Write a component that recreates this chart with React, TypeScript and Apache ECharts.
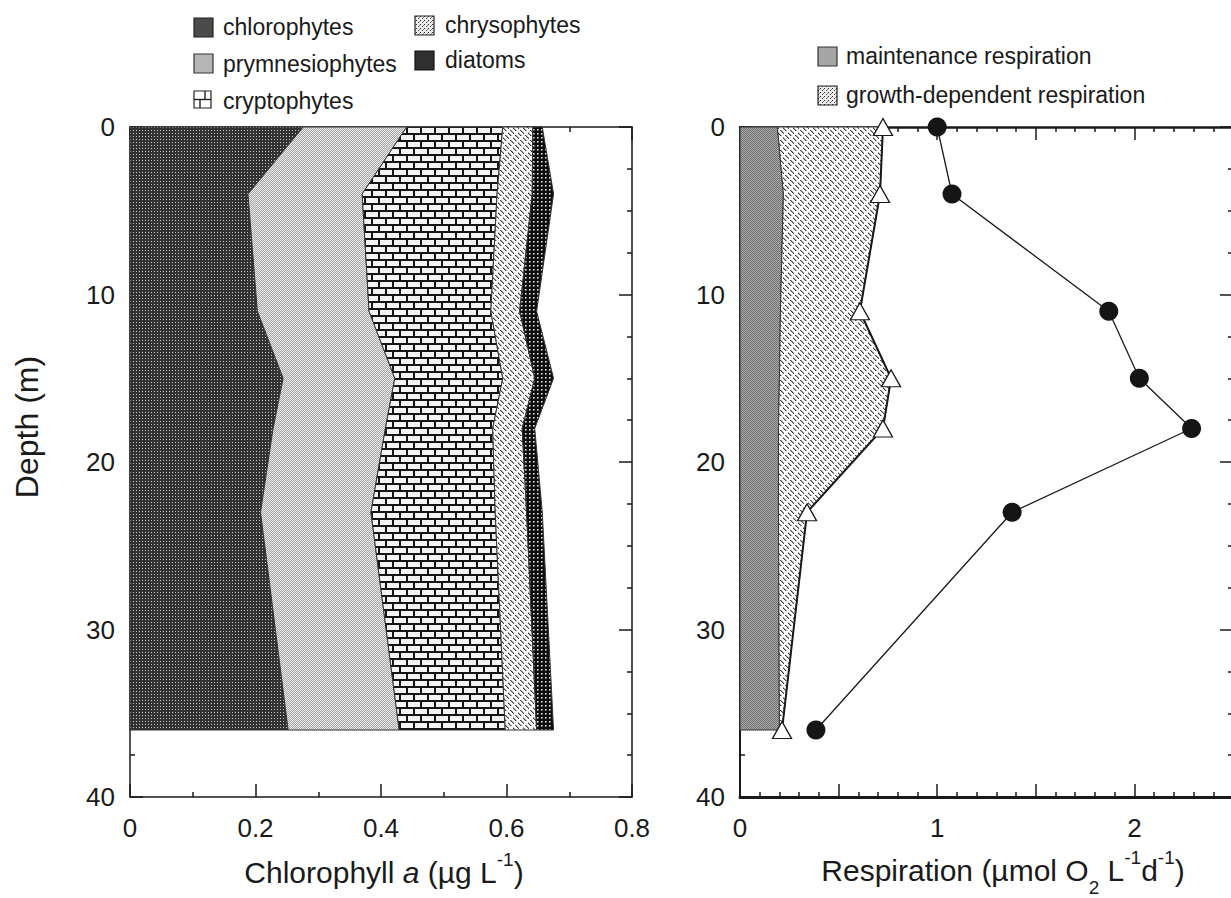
import React, { useEffect, useRef } from "react";
import * as echarts from "echarts";

// ---------- data ----------
const depths = [0, 4, 11, 15, 18, 23, 36];

const bandNames = ["chlorophytes", "prymnesiophytes", "cryptophytes", "chrysophytes", "diatoms"];
const chlorophytes = [0.276, 0.188, 0.203, 0.244, 0.228, 0.208, 0.252];
const prymnesiophytes = [0.165, 0.182, 0.178, 0.178, 0.179, 0.176, 0.177];
const cryptophytes = [0.153, 0.215, 0.194, 0.172, 0.171, 0.198, 0.169];
const chrysophytes = [0.048, 0.056, 0.046, 0.051, 0.047, 0.05, 0.05];
const diatoms = [0.015, 0.034, 0.027, 0.03, 0.02, 0.025, 0.027];

const maintenanceResp = [0.19, 0.22, 0.205, 0.2, 0.195, 0.195, 0.2];
const growthResp = [0.535, 0.49, 0.403, 0.566, 0.53, 0.145, 0.013];
const totalResp = [1.0, 1.075, 1.87, 2.025, 2.29, 1.38, 0.385];

const chlTickLabels = ["0", "0.2", "0.4", "0.6", "0.8"];
const respTickLabels = ["0", "1", "2"];
const depthTickLabels = ["0", "10", "20", "30", "40"];

const FONT = "'Liberation Sans', Arial, Helvetica, sans-serif";
const INK = "#1a1a1a";

function makePattern(w: number, h: number, draw: (ctx: CanvasRenderingContext2D) => void) {
  const c = document.createElement("canvas");
  c.width = w;
  c.height = h;
  const ctx = c.getContext("2d")!;
  draw(ctx);
  return { image: c.toDataURL(), repeat: "repeat", imageWidth: w, imageHeight: h };
}
function px(ctx: CanvasRenderingContext2D, x: number, y: number, color: string) {
  ctx.fillStyle = color;
  ctx.fillRect(x, y, 1, 1);
}
function hatch(bg: string) {
  return makePattern(10, 10, (ctx) => {
    ctx.fillStyle = bg;
    ctx.fillRect(0, 0, 10, 10);
    for (let x = 0; x < 10; x++)
      for (let y = 0; y < 10; y++) {
        const d = (((x - y) % 5) + 5) % 5;
        const s = (x + y) % 10;
        if (d === 0 && s < 7) px(ctx, x, y, "#444");
        else if (d === 1 && s < 7) px(ctx, x, y, "#a8a8a8");
      }
  });
}

export default function App() {
  const ref = useRef<HTMLDivElement>(null);

  useEffect(() => {
    document.body.style.margin = "0";
    const chart = echarts.init(ref.current!, undefined, { renderer: "svg" });

    const pChloro = makePattern(3, 3, (ctx) => {
      ctx.fillStyle = "#323232";
      ctx.fillRect(0, 0, 3, 3);
      px(ctx, 1, 1, "#c4c4c4");
    });
    const pPrym = makePattern(2, 2, (ctx) => {
      ctx.fillStyle = "#e8e8e8";
      ctx.fillRect(0, 0, 2, 2);
      px(ctx, 1, 0, "#a8a8a8");
      px(ctx, 0, 1, "#a8a8a8");
    });
    const pCrypto = makePattern(28, 14, (ctx) => {
      ctx.fillStyle = "#f4f4f4";
      ctx.fillRect(0, 0, 28, 14);
      ctx.fillStyle = "#151515";
      ctx.fillRect(0, 0, 28, 2);
      ctx.fillRect(0, 7, 28, 2);
      ctx.fillRect(0, 0, 2, 7);
      ctx.fillRect(14, 0, 2, 7);
      ctx.fillRect(7, 7, 2, 7);
      ctx.fillRect(21, 7, 2, 7);
    });
    const pChryso = hatch("#f8f8f8");
    const pDiatom = makePattern(4, 4, (ctx) => {
      ctx.fillStyle = "#0e0e0e";
      ctx.fillRect(0, 0, 4, 4);
      px(ctx, 1, 1, "#e6e6e6");
      px(ctx, 2, 1, "#888");
      px(ctx, 1, 2, "#888");
      px(ctx, 2, 2, "#555");
    });
    const pMaint = makePattern(2, 2, (ctx) => {
      ctx.fillStyle = "#727272";
      ctx.fillRect(0, 0, 2, 2);
      px(ctx, 1, 0, "#a8a8a8");
      px(ctx, 0, 1, "#a8a8a8");
    });
    const pGrowth = hatch("#fcfcfc");
    const pSpeckle = makePattern(4, 4, (ctx) => {
      ctx.fillStyle = "#ececec";
      ctx.fillRect(0, 0, 4, 4);
      px(ctx, 0, 0, "#222");
      px(ctx, 2, 2, "#444");
      px(ctx, 3, 1, "#888");
    });

    const bandPatterns = [pChloro, pPrym, pCrypto, pChryso, pDiatom];
    const bandValues = [chlorophytes, prymnesiophytes, cryptophytes, chrysophytes, diatoms];
    const cum: number[][] = [depths.map(() => 0)];
    bandValues.forEach((vals, k) => cum.push(vals.map((v, i) => cum[k][i] + v)));

    const polygonSeries = (
      name: string,
      axisIdx: number,
      lo: number[],
      hi: number[],
      fill: any
    ) => ({
      type: "custom",
      name,
      xAxisIndex: axisIdx,
      yAxisIndex: axisIdx,
      silent: true,
      z: 2,
      data: [[hi[0], depths[0]]],
      renderItem: (_params: any, api: any) => {
        const pts: number[][] = [];
        depths.forEach((d, i) => pts.push(api.coord([hi[i], d])));
        for (let i = depths.length - 1; i >= 0; i--) pts.push(api.coord([lo[i], depths[i]]));
        return {
          type: "polygon",
          shape: { points: pts },
          style: { fill, stroke: "#333", lineWidth: 1 },
        };
      },
    });

    const leftSeries = bandNames.map((n, k) => polygonSeries(n, 0, cum[k], cum[k + 1], bandPatterns[k]));
    const growthTop = maintenanceResp.map((m, i) => m + growthResp[i]);
    const rightSeries: any[] = [
      polygonSeries("maintenance respiration", 2, depths.map(() => 0), maintenanceResp, pMaint),
      polygonSeries("growth-dependent respiration", 2, maintenanceResp, growthTop, pGrowth),
      {
        type: "line",
        name: "growth-dependent total",
        xAxisIndex: 2,
        yAxisIndex: 2,
        silent: true,
        z: 5,
        data: depths.map((d, i) => [growthTop[i], d]),
        symbol: "triangle",
        symbolSize: [19, 17],
        lineStyle: { color: INK, width: 2 },
        itemStyle: { color: "#ffffff", borderColor: INK, borderWidth: 1.3 },
      },
      {
        type: "line",
        name: "total respiration",
        xAxisIndex: 2,
        yAxisIndex: 2,
        silent: true,
        z: 6,
        data: depths.map((d, i) => [totalResp[i], d]),
        symbol: "circle",
        symbolSize: 19,
        lineStyle: { color: INK, width: 1.3 },
        itemStyle: { color: "#151515", borderColor: "#151515", borderWidth: 0 },
      },
    ];

    const tickStyle = (w: number) => ({ color: INK, width: w });
    const xAxisDef = (
      grid: number,
      pos: string,
      max: number,
      interval: number,
      minorSplit: number,
      lineW: number,
      labels: ((v: number) => string) | null
    ) => ({
      type: "value",
      gridIndex: grid,
      position: pos,
      min: 0,
      max,
      interval,
      axisLine: { show: true, onZero: false, lineStyle: tickStyle(lineW) },
      axisTick: { show: true, inside: true, length: 13, lineStyle: tickStyle(1.5) },
      minorTick: { show: true, splitNumber: minorSplit, length: 5, lineStyle: tickStyle(1.5) },
      splitLine: { show: false },
      minorSplitLine: { show: false },
      axisLabel: labels
        ? { show: true, fontSize: 26, fontFamily: FONT, color: INK, margin: 18, formatter: labels }
        : { show: false },
    });
    const yAxisDef = (grid: number, pos: string, lineW: number, showLabels: boolean) => ({
      type: "value",
      gridIndex: grid,
      position: pos,
      inverse: true,
      min: 0,
      max: 40,
      interval: 10,
      axisLine: { show: true, onZero: false, lineStyle: tickStyle(lineW) },
      axisTick: { show: true, inside: true, length: 13, lineStyle: tickStyle(1.5) },
      minorTick: { show: true, splitNumber: 4, length: 5, lineStyle: tickStyle(1.5) },
      splitLine: { show: false },
      minorSplitLine: { show: false },
      axisLabel: showLabels
        ? {
            show: true,
            fontSize: 26,
            fontFamily: FONT,
            color: INK,
            margin: 15,
            formatter: (v: number) => depthTickLabels[Math.round(v / 10)] ?? "",
          }
        : { show: false },
    });

    const chlLabel = (v: number) => chlTickLabels[Math.round(v / 0.2)] ?? "";
    const respLabel = (v: number) => {
      const i = Math.round(v * 2);
      return i % 2 === 0 ? respTickLabels[i / 2] ?? "" : "";
    };

    const txt = (x: number, y: number, text: string, size = 23, extra: any = {}) => ({
      type: "text",
      x,
      y,
      silent: true,
      style: {
        text,
        fill: INK,
        font: `${size}px ${FONT}`,
        align: "left",
        verticalAlign: "middle",
        ...extra,
      },
    });
    const box = (x: number, y: number, w: number, h: number, fill: any, stroke = "#222") => ({
      type: "rect",
      silent: true,
      shape: { x, y, width: w, height: h },
      style: { fill, stroke, lineWidth: 1.2 },
    });
    const ln = (x1: number, y1: number, x2: number, y2: number) => ({
      type: "line",
      silent: true,
      shape: { x1, y1, x2, y2 },
      style: { stroke: "#222", lineWidth: 1.4 },
    });

    const normal = { fontSize: 30, fontFamily: FONT, fill: INK, lineHeight: 50, verticalAlign: "middle" };
    const sup = { fontSize: 19, fontFamily: FONT, fill: INK, height: 24, lineHeight: 24, verticalAlign: "top" };
    const sub = { fontSize: 19, fontFamily: FONT, fill: INK, height: 16, lineHeight: 16, verticalAlign: "bottom" };

    const graphic: any[] = [
      // left legend
      box(194, 18, 19, 19, "#4b4b4b"),
      txt(223, 27, bandNames[0]),
      box(194, 54, 19, 19, "#b6b6b6", "#333"),
      txt(223, 64, bandNames[1]),
      box(194, 91, 17, 17, "#ffffff"),
      ln(194, 99.5, 211, 99.5),
      ln(205, 91, 205, 99.5),
      ln(200, 99.5, 200, 108),
      txt(223, 101, bandNames[2]),
      box(415, 16, 19, 19, pSpeckle),
      txt(445, 25, bandNames[3]),
      box(415, 51, 19, 19, "#303030", "#111"),
      txt(445, 60, bandNames[4]),
      // right legend
      box(818, 47, 19, 19, "#a6a6a6", "#333"),
      txt(846, 56, "maintenance respiration"),
      box(818, 86, 19, 19, pSpeckle),
      txt(846, 95, "growth-dependent respiration"),
      // axis titles
      {
        type: "text",
        x: 384,
        y: 872,
        silent: true,
        style: {
          text: "{n|Chlorophyll }{i|a}{n| (µg L}{sup|-1}{n|)}",
          align: "center",
          verticalAlign: "middle",
          rich: {
            n: normal,
            i: { ...normal, fontStyle: "italic" },
            sup,
          },
        },
      },
      {
        type: "text",
        x: 1003,
        y: 870,
        silent: true,
        style: {
          text: "{n|Respiration (µmol O}{sub|2}{n| L}{sup|-1}{n|d}{sup|-1}{n|)}",
          align: "center",
          verticalAlign: "middle",
          rich: { n: normal, sub, sup },
        },
      },
      {
        type: "text",
        x: 27,
        y: 427,
        rotation: Math.PI / 2,
        silent: true,
        style: {
          text: "Depth (m)",
          fill: INK,
          font: `32px ${FONT}`,
          align: "center",
          verticalAlign: "middle",
        },
      },
    ];

    const option: any = {
      animation: false,
      backgroundColor: "#ffffff",
      tooltip: { show: false },
      grid: [
        { left: 130, top: 127, width: 502, height: 670, outerBoundsMode: "none", containLabel: false },
        { left: 740, top: 127, width: 493, height: 670, outerBoundsMode: "none", containLabel: false },
      ],
      xAxis: [
        xAxisDef(0, "bottom", 0.8, 0.2, 2, 1.5, chlLabel),
        xAxisDef(0, "top", 0.8, 0.2, 2, 1.5, null),
        xAxisDef(1, "bottom", 2.5, 0.5, 5, 3, respLabel),
        xAxisDef(1, "top", 2.5, 0.5, 5, 2.5, null),
      ],
      yAxis: [
        yAxisDef(0, "left", 1.5, true),
        yAxisDef(0, "right", 1.5, false),
        yAxisDef(1, "left", 2, true),
        yAxisDef(1, "right", 1.5, false),
      ],
      series: [...leftSeries, ...rightSeries],
      graphic,
    };

    chart.setOption(option);
    return () => chart.dispose();
  }, []);

  return <div ref={ref} style={{ width: 1231, height: 898, background: "#fff" }} />;
}
